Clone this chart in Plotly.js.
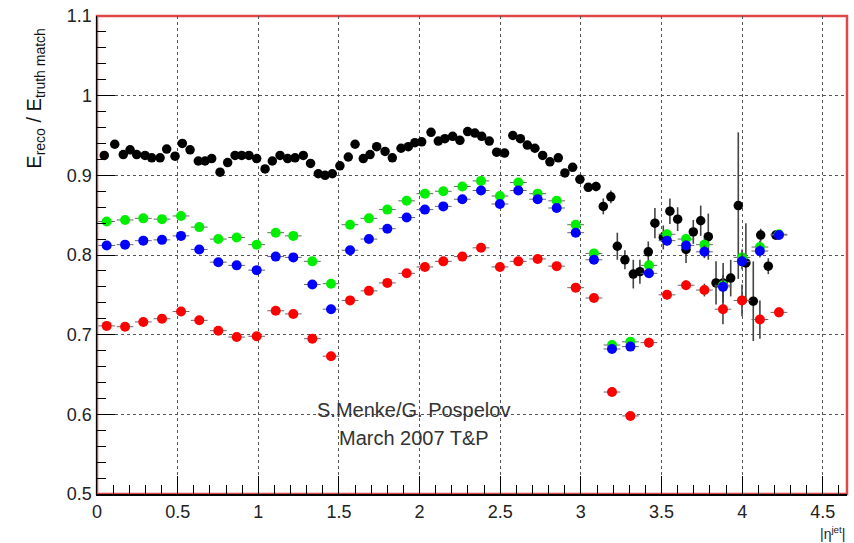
<!DOCTYPE html>
<html>
<head>
<meta charset="utf-8">
<script src="https://cdn.plot.ly/plotly-3.0.1.min.js"></script>
<style>
  html, body { margin: 0; padding: 0; background: #fff; }
  #chart { width: 854px; height: 543px; }
</style>
</head>
<body>
<div id="chart"></div>
<script>
// Jet energy response E_reco / E_truth match versus |eta_jet|

// Fine-binned response (black)
const etaFine = [0.045,0.110,0.163,0.205,0.246,0.298,0.339,0.391,0.432,0.484,
  0.529,0.577,0.628,0.670,0.711,0.763,0.810,0.856,0.897,0.942,
  0.990,1.042,1.087,1.135,1.182,1.228,1.279,1.324,1.372,1.414,
  1.459,1.506,1.558,1.600,1.651,1.693,1.734,1.786,1.831,1.885,
  1.930,1.971,2.013,2.071,2.116,2.157,2.205,2.250,2.298,2.343,
  2.385,2.432,2.478,2.527,2.578,2.625,2.668,2.715,2.763,2.808,
  2.860,2.901,2.949,2.994,3.046,3.094,3.139,3.186,3.226,3.273,
  3.325,3.366,3.418,3.459,3.511,3.552,3.600,3.652,3.697,3.743,
  3.790,3.838,3.882,3.929,3.976,4.023,4.069,4.115,4.162,4.209];
const respFine = [0.925,0.939,0.926,0.932,0.926,0.925,0.922,0.922,0.933,0.924,
  0.940,0.932,0.918,0.918,0.921,0.904,0.916,0.925,0.925,0.925,
  0.921,0.908,0.918,0.925,0.921,0.922,0.925,0.915,0.902,0.900,
  0.902,0.912,0.923,0.939,0.921,0.926,0.936,0.930,0.922,0.934,
  0.936,0.941,0.942,0.954,0.943,0.946,0.949,0.944,0.955,0.953,
  0.949,0.943,0.929,0.928,0.950,0.946,0.938,0.934,0.925,0.917,
  0.922,0.903,0.910,0.895,0.885,0.886,0.861,0.873,0.811,0.794,
  0.776,0.779,0.804,0.840,0.822,0.855,0.845,0.807,0.829,0.843,
  0.823,0.765,0.765,0.771,0.862,0.790,0.742,0.825,0.786,0.825];
const errFine = [0.003,0.003,0.003,0.003,0.003,0.003,0.003,0.003,0.003,0.003,
  0.003,0.003,0.003,0.003,0.003,0.003,0.003,0.003,0.003,0.003,
  0.003,0.003,0.003,0.003,0.003,0.003,0.003,0.003,0.003,0.003,
  0.003,0.003,0.003,0.003,0.003,0.003,0.003,0.003,0.003,0.003,
  0.003,0.003,0.003,0.003,0.003,0.003,0.003,0.003,0.003,0.003,
  0.003,0.003,0.003,0.003,0.003,0.003,0.003,0.003,0.003,0.003,
  0.004,0.004,0.005,0.005,0.005,0.006,0.010,0.008,0.017,0.012,
  0.018,0.015,0.013,0.019,0.015,0.016,0.015,0.017,0.015,0.019,
  0.029,0.027,0.025,0.023,0.092,0.050,0.050,0.008,0.010,0.006];

// Coarse-binned responses (green, blue, red)
const etaCoarse = [0.060,0.174,0.287,0.403,0.521,0.634,0.752,0.866,0.990,1.108,
  1.217,1.335,1.451,1.569,1.686,1.800,1.920,2.033,2.147,2.265,
  2.381,2.498,2.612,2.732,2.850,2.968,3.081,3.193,3.307,3.422,
  3.534,3.652,3.766,3.881,3.999,4.110,4.228];
const respGreen = [0.842,0.844,0.846,0.845,0.849,0.835,0.820,0.822,0.813,0.828,
  0.824,0.792,0.764,0.838,0.846,0.857,0.868,0.877,0.880,0.886,
  0.893,0.874,0.891,0.877,0.868,0.838,0.802,0.687,0.691,0.787,
  0.826,0.820,0.813,0.762,0.797,0.810,0.826];
const respBlue = [0.812,0.813,0.818,0.819,0.824,0.807,0.791,0.787,0.781,0.798,
  0.797,0.763,0.732,0.806,0.820,0.833,0.847,0.857,0.861,0.870,
  0.881,0.864,0.881,0.870,0.859,0.828,0.794,0.682,0.685,0.777,
  0.818,0.812,0.804,0.760,0.792,0.805,0.825];
const respRed = [0.711,0.710,0.716,0.720,0.729,0.718,0.705,0.697,0.698,0.730,
  0.726,0.695,0.673,0.743,0.755,0.765,0.777,0.785,0.792,0.798,
  0.809,0.785,0.792,0.795,0.786,0.759,0.746,0.628,0.598,0.690,
  0.750,0.762,0.756,0.732,0.743,0.719,0.728];
const errCoarse = [0.003,0.003,0.003,0.003,0.003,0.003,0.003,0.003,0.003,0.003,
  0.003,0.003,0.003,0.003,0.003,0.003,0.003,0.003,0.003,0.003,
  0.003,0.003,0.003,0.003,0.003,0.003,0.004,0.005,0.005,0.006,
  0.006,0.006,0.008,0.013,0.010,0.008,0.005];
const errRed = [0.003,0.003,0.003,0.003,0.003,0.003,0.003,0.003,0.003,0.003,
  0.003,0.003,0.003,0.003,0.003,0.003,0.003,0.003,0.003,0.003,
  0.003,0.003,0.003,0.003,0.003,0.003,0.003,0.005,0.005,0.006,
  0.006,0.006,0.008,0.019,0.020,0.024,0.006];
const halfBin = 0.052;

const xTickVals = [0, 0.5, 1, 1.5, 2, 2.5, 3, 3.5, 4, 4.5];
const yTickVals = [0.5, 0.6, 0.7, 0.8, 0.9, 1, 1.1];

const FONT = 'Liberation Sans, Arial, Helvetica, sans-serif';

function series(x, y, err, color, size, withX) {
  const t = {
    type: 'scatter', mode: 'markers', x: x, y: y,
    marker: { color: color, size: size, line: { width: 0 } },
    error_y: { type: 'data', array: err, visible: true, color: '#444', thickness: 1.6, width: 0 },
    hoverinfo: 'x+y', showlegend: false
  };
  if (withX) {
    t.error_x = { type: 'constant', value: halfBin, visible: true, color: '#666', thickness: 1, width: 0 };
  }
  return t;
}

const data = [
  series(etaFine, respFine, errFine, '#000000', 9.5, false),
  series(etaCoarse, respRed, errRed, '#ff0000', 10, true),
  series(etaCoarse, respGreen, errCoarse, '#00ee00', 10, true),
  series(etaCoarse, respBlue, errCoarse, '#0000ff', 10, true)
];

const axisCommon = {
  showline: true, linecolor: '#000', linewidth: 1.5, mirror: false,
  ticks: 'inside', ticklen: 18, tickwidth: 1, tickcolor: '#000',
  showgrid: true, gridcolor: '#555', gridwidth: 1, griddash: 'dot',
  zeroline: false,
  tickfont: { family: FONT, size: 18, color: '#222' }
};

const layout = {
  width: 854, height: 543,
  margin: { l: 97, r: 7, t: 16, b: 49 },
  paper_bgcolor: '#fff', plot_bgcolor: '#fff',
  font: { family: FONT, color: '#222' },
  xaxis: Object.assign({}, axisCommon, {
    range: [0, 4.65], tickmode: 'array', tickvals: xTickVals,
    minor: { dtick: 0.1, ticks: 'inside', ticklen: 9, tickcolor: '#000', showgrid: false },
    ticklabelstandoff: 1
  }),
  yaxis: Object.assign({}, axisCommon, {
    range: [0.5, 1.1], tickmode: 'array', tickvals: yTickVals,
    minor: { dtick: 0.02, ticks: 'inside', ticklen: 9, tickcolor: '#000', showgrid: false }
  }),
  shapes: [
    { type: 'rect', xref: 'paper', yref: 'paper', x0: 0, x1: 1, y0: 0, y1: 1,
      line: { color: '#e04848', width: 2.5 }, layer: 'below' }
  ],
  annotations: [
    { xref: 'paper', yref: 'paper', x: -0.082, y: 0.828, textangle: -90,
      xanchor: 'center', yanchor: 'middle', showarrow: false,
      text: 'E<sub>reco</sub> / E<sub>truth match</sub>',
      font: { family: FONT, size: 20, color: '#111' } },
    { xref: 'paper', yref: 'paper', x: 0.98, y: -0.059,
      xanchor: 'center', yanchor: 'top', showarrow: false,
      text: '|η<sup>jet</sup>|',
      font: { family: FONT, size: 14, color: '#222' } },
    { xref: 'x', yref: 'y', x: 1.965, y: 0.605, showarrow: false,
      xanchor: 'center', yanchor: 'middle',
      text: 'S.Menke/G. Pospelov', font: { family: FONT, size: 20, color: '#333' } },
    { xref: 'x', yref: 'y', x: 1.965, y: 0.570, showarrow: false,
      xanchor: 'center', yanchor: 'middle',
      text: 'March 2007 T&amp;P', font: { family: FONT, size: 20, color: '#333' } }
  ]
};

Plotly.newPlot('chart', data, layout, { displayModeBar: false, staticPlot: true });
</script>
</body>
</html>
